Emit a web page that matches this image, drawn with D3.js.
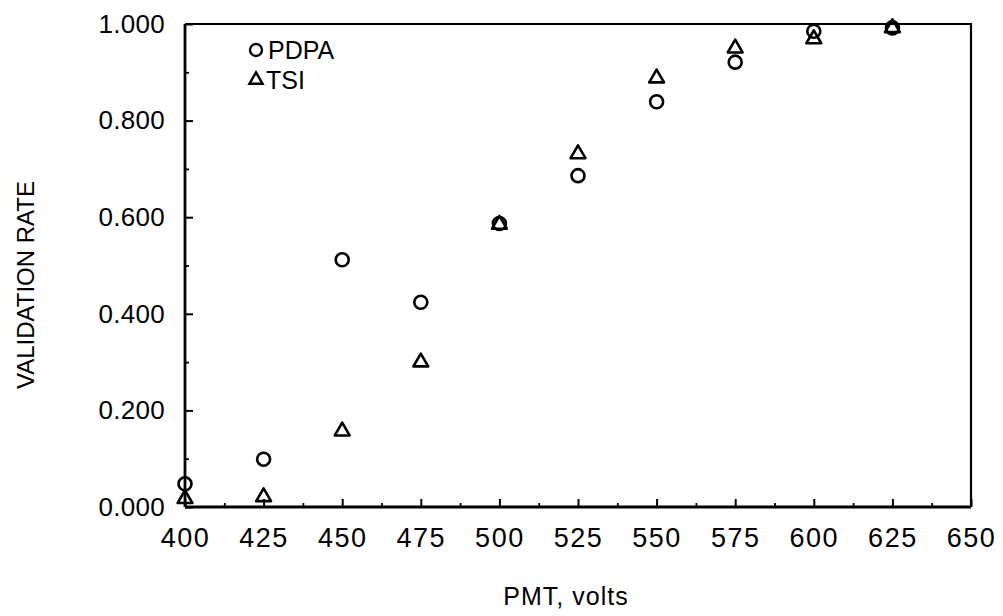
<!DOCTYPE html>
<html>
<head>
<meta charset="utf-8">
<script src="https://cdn.jsdelivr.net/npm/d3@7"></script>
<style>
  html, body { margin: 0; padding: 0; background: #fff; }
  svg { display: block; }
  text { font-family: "Liberation Sans", Arial, sans-serif; fill: #000; }
</style>
</head>
<body>
<svg id="chart" width="1003" height="616"></svg>
<script>
// ---- data ----
const volts = [400, 425, 450, 475, 500, 525, 550, 575, 600, 625];
const pdpa  = [0.048, 0.099, 0.512, 0.424, 0.587, 0.686, 0.839, 0.921, 0.985, 0.992];
const tsi   = [0.017, 0.021, 0.157, 0.300, 0.585, 0.731, 0.888, 0.950, 0.969, 0.992];
const xTickValues = [400, 425, 450, 475, 500, 525, 550, 575, 600, 625, 650];
const yTickValues = [0, 0.2, 0.4, 0.6, 0.8, 1.0];
const seriesNames = ["PDPA", "TSI"];
const xTitle = "PMT, volts";
const yTitle = "VALIDATION RATE";

// ---- layout ----
const mLeft = 185, mRight = 971, mTop = 24, mBottom = 507;
const svg = d3.select("#chart");

const x = d3.scaleLinear().domain([400, 650]).range([mLeft, mRight]);
const y = d3.scaleLinear().domain([0, 1]).range([mBottom, mTop]);

// minor ticks
const xMinor = d3.range(400, 650.01, 12.5).filter(v => v % 25 !== 0);
const yMinor = d3.range(0, 1.0001, 0.1).filter(v => Math.abs(Math.round(v * 5) - v * 5) > 1e-6);

// frame top/right
svg.append("path")
  .attr("d", `M${mLeft},${mTop}H${mRight}V${mBottom}`)
  .attr("fill", "none").attr("stroke", "#000").attr("stroke-width", 2.2);

// bottom axis
const xAxis = d3.axisBottom(x).tickValues(xTickValues).tickSize(-8).tickPadding(21)
  .tickFormat(d3.format("d"));
const gx = svg.append("g").attr("transform", `translate(0,${mBottom})`).call(xAxis);
gx.select(".domain").attr("stroke-width", 2.8).attr("d", `M${mLeft},0H${mRight}`);
gx.selectAll(".tick line").attr("stroke-width", 2);
gx.selectAll(".tick text").attr("font-size", 27).attr("letter-spacing", 1.5)
  .attr("font-family", "Liberation Sans, Arial, sans-serif").attr("fill", "#000");
const gxm = svg.append("g").attr("transform", `translate(0,${mBottom})`)
  .call(d3.axisBottom(x).tickValues(xMinor).tickSize(-4).tickFormat(""));
gxm.select(".domain").remove();
gxm.selectAll(".tick line").attr("stroke-width", 1.8);

// left axis
const yAxis = d3.axisLeft(y).tickValues(yTickValues).tickSize(-8).tickPadding(20)
  .tickFormat(d3.format(".3f"));
const gy = svg.append("g").attr("transform", `translate(${mLeft},0)`).call(yAxis);
gy.select(".domain").attr("stroke-width", 2.8).attr("d", `M0,${mTop}V${mBottom}`);
gy.selectAll(".tick line").attr("stroke-width", 2);
gy.selectAll(".tick text").attr("font-size", 26).attr("letter-spacing", 0.3)
  .attr("font-family", "Liberation Sans, Arial, sans-serif").attr("fill", "#000");
const gym = svg.append("g").attr("transform", `translate(${mLeft},0)`)
  .call(d3.axisLeft(y).tickValues(yMinor).tickSize(-4).tickFormat(""));
gym.select(".domain").remove();
gym.selectAll(".tick line").attr("stroke-width", 1.8);

// titles
svg.append("text").attr("x", 566).attr("y", 605).attr("text-anchor", "middle")
  .attr("font-size", 25).attr("letter-spacing", 1).text(xTitle);
svg.append("text").attr("transform", "translate(34,285) rotate(-90)")
  .attr("text-anchor", "middle").attr("font-size", 24).text(yTitle);

// markers
const tri = d3.symbol().type(d3.symbolTriangle).size(95);
const data = volts.map((v, i) => ({ v, p: pdpa[i], t: tsi[i] }));

svg.append("g").selectAll("path").data(data).join("path")
  .attr("d", tri)
  .attr("transform", d => `translate(${x(d.v)},${y(d.t)})`)
  .attr("fill", "none").attr("stroke", "#000").attr("stroke-width", 2.6)
  .attr("stroke-linejoin", "round");

svg.append("g").selectAll("circle").data(data).join("circle")
  .attr("cx", d => x(d.v)).attr("cy", d => y(d.p)).attr("r", 6.5)
  .attr("fill", "none").attr("stroke", "#000").attr("stroke-width", 2.6);

// legend
const lg = svg.append("g");
lg.append("circle").attr("cx", 256).attr("cy", 50).attr("r", 6)
  .attr("fill", "none").attr("stroke", "#000").attr("stroke-width", 2.4);
lg.append("text").attr("x", 268).attr("y", 59).attr("font-size", 25).text(seriesNames[0]);
lg.append("path").attr("d", d3.symbol().type(d3.symbolTriangle).size(75))
  .attr("transform", "translate(256,80)")
  .attr("fill", "none").attr("stroke", "#000").attr("stroke-width", 2.4);
lg.append("text").attr("x", 266).attr("y", 89).attr("font-size", 25).text(seriesNames[1]);
</script>
</body>
</html>
